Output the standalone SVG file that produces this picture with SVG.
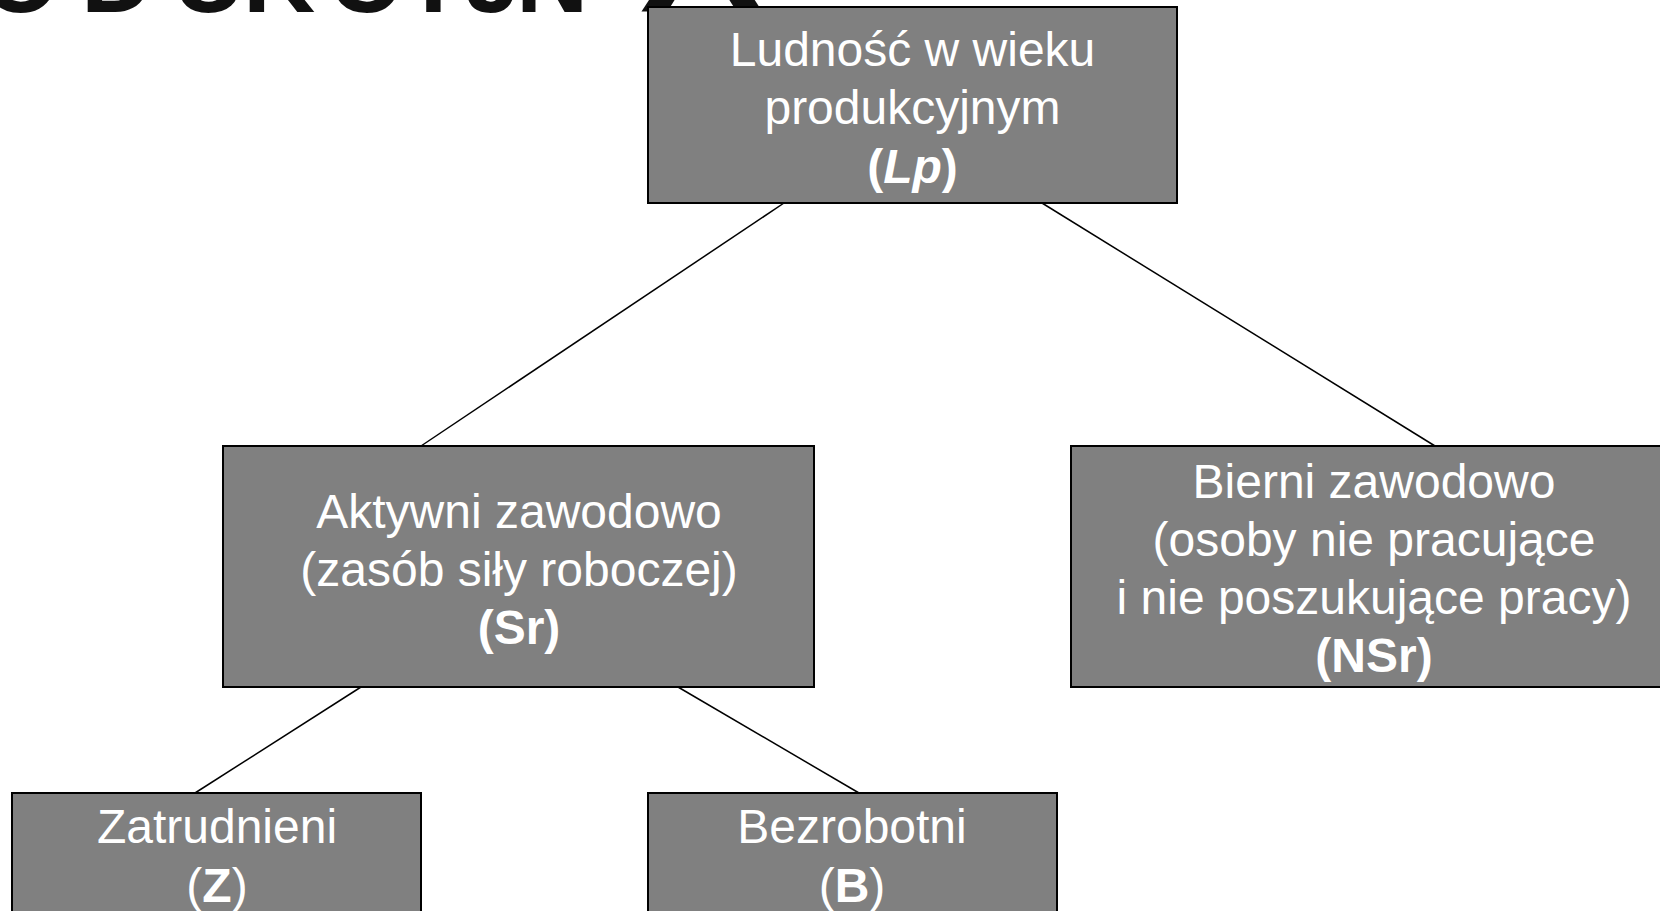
<svg xmlns="http://www.w3.org/2000/svg" width="1660" height="911" viewBox="0 0 1660 911">
<style>
.box{fill:#808080;stroke:#000;stroke-width:2}
.t{font-family:"Liberation Sans",Arial,sans-serif;font-size:48px;fill:#fff;text-anchor:middle}
.b{font-weight:bold}
.c{stroke:#000;stroke-width:1.5;fill:none}
.title{font-family:"Liberation Sans",Arial,sans-serif;font-weight:bold;font-size:100px;fill:#111}
</style>
<rect width="1660" height="911" fill="#fff"/>
<g id="title">
<text class="title" y="12"><tspan x="-18">O</tspan><tspan x="81">D</tspan><tspan x="173">U</tspan><tspan x="243">K</tspan><tspan x="328">C</tspan><tspan x="400">Y</tspan><tspan x="465">J</tspan><tspan x="516">N</tspan></text>
<text class="title" y="12" transform="translate(637 0) scale(1.8 1)" x="0">A</text>
</g>
<g id="connectors">
<line class="c" x1="784" y1="203" x2="421" y2="446"/>
<line class="c" x1="1042" y1="203" x2="1435" y2="446"/>
<line class="c" x1="361" y1="687" x2="195" y2="793"/>
<line class="c" x1="678" y1="687" x2="859" y2="793"/>
</g>
<g id="lp">
<rect class="box" x="648" y="7" width="529" height="196"/>
<text class="t" x="912.5" y="66">Ludność w wieku</text>
<text class="t" x="912.5" y="124">produkcyjnym</text>
<text class="t b" x="912.5" y="183">(<tspan font-style="italic">Lp</tspan>)</text>
</g>
<g id="sr">
<rect class="box" x="223" y="446" width="591" height="241"/>
<text class="t" x="519" y="528">Aktywni zawodowo</text>
<text class="t" x="519" y="586">(zasób siły roboczej)</text>
<text class="t b" x="519" y="644">(Sr)</text>
</g>
<g id="nsr">
<rect class="box" x="1071" y="446" width="610" height="241"/>
<text class="t" x="1374" y="498">Bierni zawodowo</text>
<text class="t" x="1374" y="556">(osoby nie pracujące</text>
<text class="t" x="1374" y="614">i nie poszukujące pracy)</text>
<text class="t b" x="1374" y="672">(NSr)</text>
</g>
<g id="z">
<rect class="box" x="12" y="793" width="409" height="140"/>
<text class="t" x="217" y="843">Zatrudnieni</text>
<text class="t" x="217" y="902">(<tspan class="b">Z</tspan>)</text>
</g>
<g id="bz">
<rect class="box" x="648" y="793" width="409" height="140"/>
<text class="t" x="852" y="843">Bezrobotni</text>
<text class="t" x="852" y="902">(<tspan class="b">B</tspan>)</text>
</g>
</svg>
